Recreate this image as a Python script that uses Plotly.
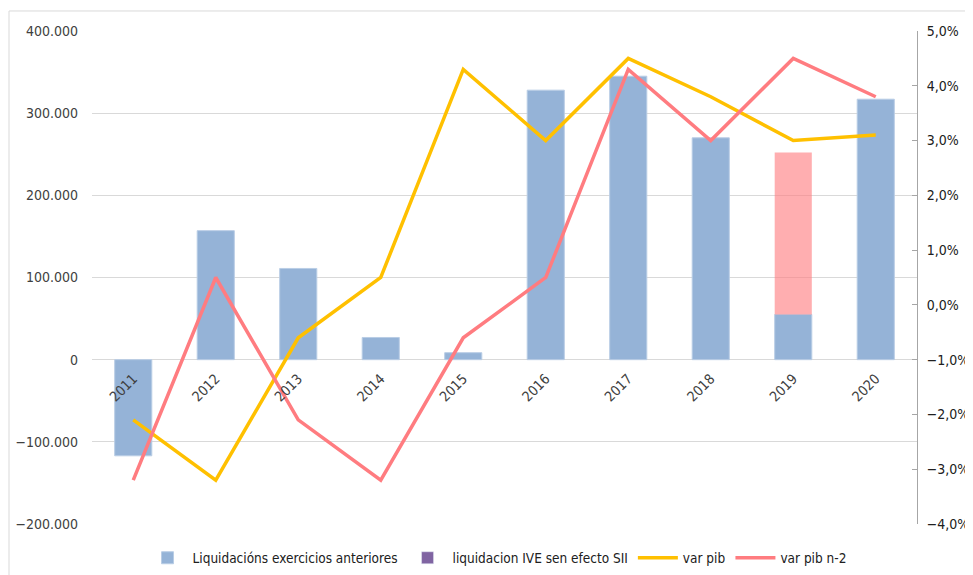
import plotly.graph_objects as go

anos = ['2011', '2012', '2013', '2014', '2015', '2016', '2017', '2018', '2019', '2020']
liquidacions = [-117000, 157000, 111000, 27000, 8500, 328000, 345000, 270000, 55000, 317000]
liquidacion_ive = [None] * 10
# extra tramo 2019 (rosa, encima da barra azul)
tramo_base = [None, None, None, None, None, None, None, None, 55000, None]
tramo_valor = [None, None, None, None, None, None, None, None, 197000, None]
var_pib = [-2.1, -3.2, -0.6, 0.5, 4.3, 3.0, 4.5, 3.8, 3.0, 3.1]
var_pib_n2 = [-3.2, 0.5, -2.1, -3.2, -0.6, 0.5, 4.3, 3.0, 4.5, 3.8]

font_family = "DejaVu Sans Condensed, Liberation Sans Narrow, Arial"
txt = '#404040'

fig = go.Figure()
fig.add_trace(go.Bar(x=anos, y=liquidacions, name='Liquidacións exercicios anteriores',
                     marker=dict(color='#95B3D7', line=dict(color='#B9CDE5', width=1))))
fig.add_trace(go.Bar(x=anos, y=liquidacion_ive, name='liquidacion IVE sen efecto SII',
                     marker_color='#8064A2'))
fig.add_trace(go.Bar(x=anos, y=tramo_valor, base=tramo_base, showlegend=False,
                     marker=dict(color='#FF7C80', line_width=0), opacity=0.62))
fig.add_trace(go.Scatter(x=anos, y=var_pib, name='var pib', mode='lines', yaxis='y2',
                         line=dict(color='#FFC000', width=3.5)))
fig.add_trace(go.Scatter(x=anos, y=var_pib_n2, name='var pib n-2', mode='lines', yaxis='y2',
                         line=dict(color='#FF7C80', width=3.5)))

fig.update_layout(
    width=973, height=575,
    margin=dict(l=84, r=64, t=23, b=59),
    paper_bgcolor='white', plot_bgcolor='white',
    separators=',.',
    barmode='overlay', bargap=0.55,
    font=dict(family=font_family, size=14, color=txt),
    showlegend=True,
    legend=dict(orientation='h', xref='container', yref='container',
                x=0.5026, xanchor='center', y=0.0435, yanchor='middle', itemwidth=40,
                font=dict(size=13.5, color='#202020'), traceorder='normal'),
    xaxis=dict(type='category', anchor='free', position=165 / 493, tickangle=-45,
               showline=False, showgrid=False, ticks='', ticklabelstandoff=8, automargin=False,
               tickfont=dict(size=14, color=txt)),
    yaxis=dict(range=[-200000, 400000], dtick=100000, tickformat=',.0f', automargin=False,
               gridcolor='#D9D9D9', zeroline=True, zerolinecolor='#D9D9D9', zerolinewidth=1,
               showline=False, ticks='', ticklabelstandoff=13, tickfont=dict(size=14, color=txt)),
    yaxis2=dict(range=[-4, 5], dtick=1, tickformat='.1f', ticksuffix='%', overlaying='y',
                side='right', showgrid=False, zeroline=False, showline=True, linecolor='#A6A6A6',
                automargin=False, ticks='inside', ticklen=5, tickcolor='#A6A6A6',
                ticklabelstandoff=6, tickfont=dict(size=14, color='#202020')),
)

# marco do grafico
fig.add_shape(type='rect', xref='paper', yref='paper', x0=-0.1006, y0=-0.3, x1=1.2, y1=1.0406,
              line=dict(color='#D9D9D9', width=1), layer='below')

fig.write_html("out.html")
